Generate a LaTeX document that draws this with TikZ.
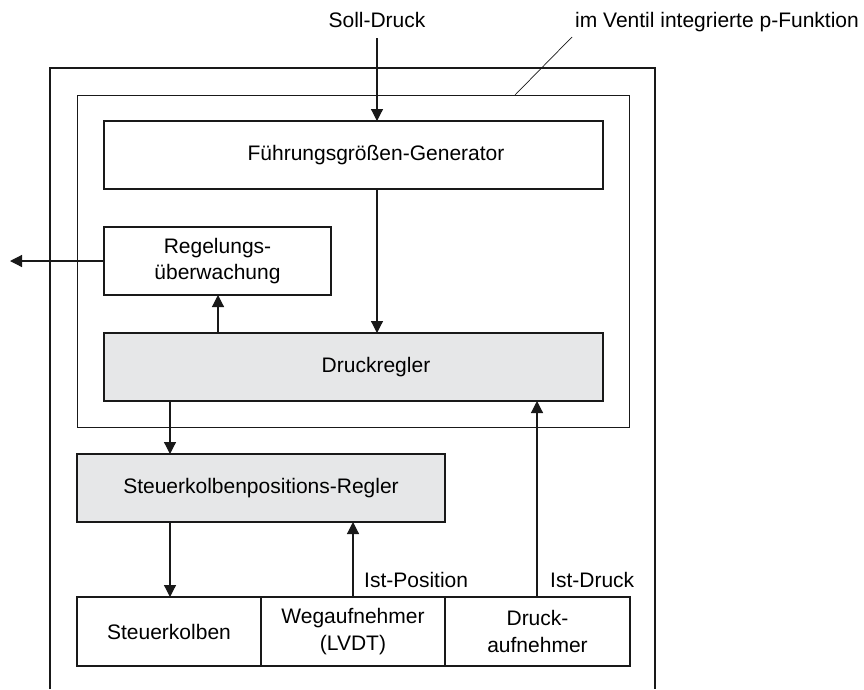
\documentclass[tikz,border=0pt]{standalone}
\usepackage{fontspec}
\setmainfont{Liberation Sans}
\usetikzlibrary{arrows.meta}
\definecolor{boxgray}{HTML}{E6E7E8}
\tikzset{
  box/.style={draw=black!90, line width=1.4pt, inner sep=0pt, outer sep=0pt, anchor=north west, align=center, font=\fontsize{21}{26.5}\selectfont},
  grayfill/.style={fill=boxgray},
  arr/.style={line width=1.2pt, draw=black!90, -{Triangle[length=12pt,width=12pt]}},
  lbl/.style={inner sep=0pt, font=\fontsize{21}{26.5}\selectfont}
}
\begin{document}
\begin{tikzpicture}[x=1pt,y=-1pt]
\useasboundingbox (0,0) rectangle (864,689);
% outer valve frame (open at bottom)
\draw[line width=2.3pt, black!90] (50,689) -- (50,68) -- (655,68) -- (655,689);
% inner box: integrated p-function
\draw[line width=1pt, black!90] (77,95) rectangle (629,427);
% blocks
\node[box, minimum width=499pt, minimum height=68pt, label={[lbl, xshift=22.5pt]center:Führungsgrößen-Generator}] (fg) at (104,121) {};
\node[box, minimum width=227pt, minimum height=68pt] (ru) at (104,227) {Regelungs-\\überwachung};
\node[box, grayfill, minimum width=499pt, minimum height=68pt, label={[lbl, xshift=22.5pt]center:Druckregler}] (dr) at (104,333) {};
\node[box, grayfill, minimum width=368pt, minimum height=68pt] (sp) at (77,454) {Steuerkolbenpositions-Regler};
\node[box, minimum width=184pt, minimum height=69pt] (sk) at (77,597) {Steuerkolben};
\node[box, minimum width=184pt, minimum height=69pt] (wa) at (261,597) {Wegaufnehmer\\(LVDT)};
\node[box, minimum width=185pt, minimum height=69pt] (da) at (445,597) {Druck-\\aufnehmer};
% texts
\node[lbl, anchor=base] (soll) at (377,27) {Soll-Druck};
\node[lbl, anchor=base west] (pf) at (575,27) {im Ventil integrierte p-Funktion};
\node[lbl, anchor=base west] (ipos) at (364,587) {Ist-Position};
\node[lbl, anchor=base west] (idr) at (550,587) {Ist-Druck};
% helper coordinates
\coordinate (sollstart) at (377,38);
\coordinate (xa) at (218,0);
\coordinate (xb) at (170,0);
\coordinate (xc) at (353,0);
\coordinate (xd) at (537,0);
\coordinate (out) at (10,261);
\coordinate (leadA) at (572,37);
\coordinate (leadB) at (515,95);
% connectors
\draw[arr] (sollstart) -- (fg.north -| sollstart);
\draw[arr] (fg.south -| sollstart) -- (dr.north -| sollstart);
\draw[arr] (dr.north -| xa) -- (ru.south -| xa);
\draw[arr] (ru.west) -- (out);
\draw[arr] (dr.south -| xb) -- (sp.north -| xb);
\draw[arr] (sp.south -| xb) -- (sk.north -| xb);
\draw[arr] (wa.north -| xc) -- (sp.south -| xc);
\draw[arr] (da.north -| xd) -- (dr.south -| xd);
\draw[line width=0.7pt, black!90] (leadA) -- (leadB);
\end{tikzpicture}
\end{document}
